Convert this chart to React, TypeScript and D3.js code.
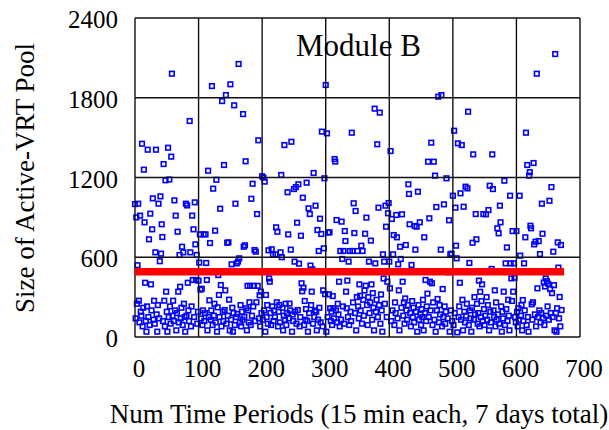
import React from "react";
import * as d3 from "d3";

// Size of Active-VRT pool for each 15-minute period (index = period number)
const poolSize: number[] = [
  1000, 140, 900, 250, 540, 1003, 273, 110, 913, 190,
  160, 1454, 80, 220, 1259, 863, 408, 120, 40, 230,
  1409, 150, 735, 90, 928, 396, 200, 810, 1043, 130,
  273, 100, 637, 1409, 170, 40, 240, 1003, 140, 570,
  1058, 627, 848, 752, 120, 1301, 273, 80, 1179, 341,
  190, 40, 1424, 150, 1185, 230, 100, 1357, 1981, 160,
  273, 120, 1028, 200, 913, 50, 180, 792, 341, 110,
  617, 378, 140, 220, 679, 90, 637, 250, 150, 40,
  1003, 160, 990, 408, 200, 120, 1625, 637, 80, 230,
  913, 429, 810, 150, 1013, 697, 429, 617, 100, 190,
  424, 560, 772, 356, 140, 363, 90, 200, 772, 120,
  180, 772, 557, 429, 50, 1251, 150, 276, 707, 130,
  200, 1888, 90, 1116, 160, 250, 800, 110, 1183, 40,
  223, 466, 316, 150, 965, 391, 80, 1775, 190, 120,
  1294, 203, 351, 1820, 100, 709, 160, 712, 281, 50,
  1901, 130, 547, 220, 40, 180, 1743, 90, 1003, 150,
  554, 173, 567, 2054, 592, 110, 240, 80, 190, 130,
  1677, 679, 150, 690, 1322, 216, 50, 385, 200, 110,
  261, 385, 90, 1040, 160, 1153, 230, 385, 654, 120,
  642, 261, 925, 385, 1480, 140, 314, 80, 341, 180,
  1209, 130, 1199, 200, 1169, 40, 316, 150, 240, 100,
  652, 441, 416, 180, 90, 660, 230, 619, 120, 200,
  150, 622, 825, 261, 792, 80, 190, 241, 110, 637,
  1219, 600, 220, 50, 160, 1444, 130, 250, 90, 180,
  1089, 772, 140, 251, 200, 657, 1469, 40, 170, 120,
  1113, 567, 190, 1128, 100, 860, 203, 1149, 552, 80,
  150, 762, 404, 344, 1048, 371, 90, 271, 130, 210,
  1161, 120, 40, 968, 180, 925, 537, 240, 341, 509,
  100, 1234, 150, 200, 988, 190, 50, 805, 130, 647,
  220, 890, 110, 775, 1545, 80, 351, 667, 1194, 323,
  1896, 40, 1532, 150, 785, 321, 788, 216, 120, 190,
  90, 308, 216, 140, 1339, 1320, 200, 880, 110, 250,
  170, 416, 80, 647, 130, 868, 587, 230, 647, 100,
  797, 722, 341, 216, 424, 150, 567, 90, 647, 190,
  120, 1537, 647, 260, 1006, 782, 180, 948, 50, 300,
  647, 230, 140, 396, 310, 200, 687, 100, 647, 280,
  160, 350, 777, 386, 898, 240, 90, 300, 567, 180,
  260, 725, 396, 130, 330, 220, 50, 1718, 554, 190,
  280, 1450, 150, 973, 240, 1688, 100, 320, 200, 40,
  622, 440, 567, 250, 988, 830, 150, 416, 931, 1008,
  567, 366, 1399, 120, 888, 200, 622, 767, 90, 260,
  180, 918, 750, 140, 547, 351, 50, 679, 587, 220,
  923, 416, 160, 260, 100, 290, 692, 200, 130, 240,
  1149, 1076, 848, 180, 80, 542, 270, 150, 220, 110,
  835, 657, 190, 830, 40, 1093, 240, 130, 863, 170,
  90, 210, 150, 280, 50, 750, 180, 429, 120, 230,
  326, 1319, 150, 893, 416, 200, 1462, 404, 90, 260,
  1319, 130, 1214, 40, 978, 200, 286, 1808, 110, 240,
  170, 657, 1820, 80, 361, 150, 998, 230, 100, 190,
  1194, 496, 140, 487, 878, 40, 622, 200, 627, 120,
  1063, 90, 1552, 180, 973, 687, 592, 35, 1457, 150,
  230, 408, 1081, 130, 1444, 280, 50, 980, 190, 110,
  1131, 160, 250, 1118, 1695, 90, 557, 200, 140, 40,
  220, 709, 1374, 130, 300, 170, 925, 735, 250, 100,
  180, 424, 80, 340, 150, 270, 396, 120, 925, 210,
  90, 160, 923, 300, 130, 240, 955, 50, 1138, 190,
  110, 512, 1374, 1113, 200, 150, 351, 80, 260, 130,
  818, 170, 780, 100, 988, 863, 230, 40, 190, 140,
  341, 1176, 90, 554, 210, 674, 120, 280, 160, 50,
  1063, 554, 441, 271, 797, 341, 554, 446, 150, 110,
  797, 190, 80, 216, 130, 1063, 612, 160, 240, 50,
  278, 120, 554, 200, 750, 1537, 90, 1294, 150, 40,
  1214, 1240, 837, 818, 246, 130, 261, 1309, 697, 170,
  717, 80, 1981, 366, 150, 722, 200, 624, 110, 180,
  1003, 777, 140, 410, 90, 380, 440, 160, 420, 230,
  400, 130, 1025, 360, 180, 1128, 330, 150, 642, 390,
  50, 2129, 180, 40, 216, 712, 522, 140, 301, 80,
  692, 203,
];

const xTicks: number[] = [0, 100, 200, 300, 400, 500, 600, 700];
const yTicks: number[] = [0, 600, 1200, 1800, 2400];
const thresholdValue = 490;
const thresholdRange: number[] = [0, 675];

const titleText = "Module B";
const xLabel = "Num Time Periods (15 min each, 7 days total)";
const yLabel = "Size of Active-VRT Pool";

export default function App() {
  const W = 609;
  const H = 430;
  const x = d3.scaleLinear().domain([0, 700]).range([135, 580]);
  const y = d3.scaleLinear().domain([0, 2400]).range([337, 18]);
  const font = "'Liberation Serif', 'Times New Roman', serif";
  const sq = 4.6;

  return (
    <svg
      width={W}
      height={H}
      style={{ position: "absolute", left: 0, top: 0, background: "#fff" }}
    >
      {/* points */}
      <g>
        {poolSize.map((v, i) => (
          <rect
            key={i}
            x={x(i) - sq / 2}
            y={y(v) - sq / 2}
            width={sq}
            height={sq}
            fill="none"
            stroke="#0000ff"
            strokeWidth={1.6}
          />
        ))}
      </g>
      {/* grid */}
      <g stroke="#111" strokeWidth={1.4}>
        {xTicks.map((t) => (
          <line key={"gx" + t} x1={x(t)} x2={x(t)} y1={y(0)} y2={y(2400)} />
        ))}
        {yTicks.map((t) => (
          <line key={"gy" + t} x1={x(0)} x2={x(700)} y1={y(t)} y2={y(t)} />
        ))}
      </g>
      {/* threshold */}
      <line
        x1={x(thresholdRange[0])}
        x2={x(thresholdRange[1])}
        y1={y(thresholdValue)}
        y2={y(thresholdValue)}
        stroke="#ff0000"
        strokeWidth={7.5}
      />
      {/* tick labels */}
      <g fontFamily={font} fontSize={25} fill="#000">
        {yTicks.map((t) => (
          <text key={"ty" + t} x={118} y={y(t) + 10} textAnchor="end">
            {t}
          </text>
        ))}
        {xTicks.map((t) => (
          <text key={"tx" + t} x={x(t) + 4} y={377} textAnchor="middle">
            {t}
          </text>
        ))}
      </g>
      <text x={296} y={56} fontFamily={font} fontSize={31} fill="#000">
        {titleText}
      </text>
      <text
        x={359}
        y={423}
        fontFamily={font}
        fontSize={27}
        textAnchor="middle"
        fill="#000"
      >
        {xLabel}
      </text>
      <text
        transform={`translate(34,178) rotate(-90)`}
        fontFamily={font}
        fontSize={27}
        textAnchor="middle"
        fill="#000"
      >
        {yLabel}
      </text>
    </svg>
  );
}
